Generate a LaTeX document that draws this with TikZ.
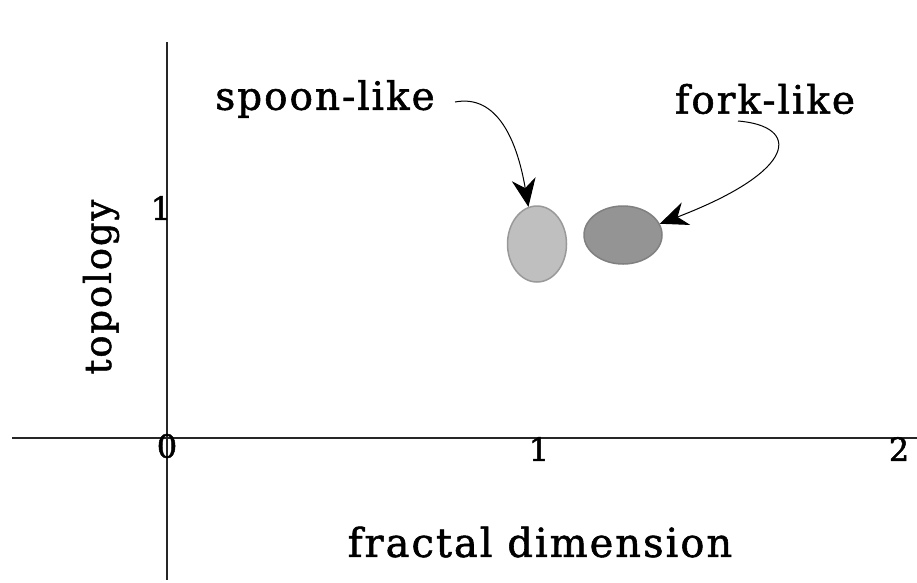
\documentclass[tikz,border=0pt]{standalone}
\usepackage{fontspec}
\setmainfont{DejaVu Serif}
\newfontfamily\lblfont[LetterSpace=5,FakeBold=1.4]{DejaVu Serif}
\newfontfamily\numfont[FakeBold=1.5]{DejaVu Serif}
\usetikzlibrary{shapes.geometric,arrows.meta}
\tikzset{
  axis/.style={line width=1.1pt, black!85},
  lbl/.style={inner sep=0pt, font=\lblfont\fontsize{39}{43}\selectfont},
  num/.style={inner sep=0pt, font=\numfont\fontsize{32}{35}\selectfont},
  blob/.style={ellipse, inner sep=0pt, line width=1.5pt},
  conn/.style={line width=1pt, -{Stealth[length=28pt,width=24pt,inset=9pt]}}
}
\begin{document}
\begin{tikzpicture}[x=1pt,y=-1pt]
\useasboundingbox (0,0) rectangle (917,582);
\coordinate (ytop) at (167,42);
\coordinate (ybot) at (167,580);
\coordinate (xl) at (12,438);
\coordinate (xr) at (917,438);
\draw[axis] (ytop) -- (ybot);
\draw[axis] (xl) -- (xr);
\node[num] (n0) at (167,446) {0};
\node[num] (n1) at (539,449) {1};
\node[num] (n2) at (899,449) {2};
\node[num] (ny1) at (161,208) {1};
\node[lbl, rotate=90, font=\lblfont\fontsize{37}{40}\selectfont] (ylab) at (101,287) {topology};
\node[lbl, font=\lblfont\fontsize{40}{44}\selectfont] (xlab) at (540,542) {fractal dimension};
\node[lbl] (spoonlbl) at (325,99) {spoon-like};
\node[lbl] (forklbl) at (765,99) {fork-like};
\node[blob, draw=black!40, fill=black!25, minimum width=59pt, minimum height=76pt] (spoon) at (537,244) {};
\node[blob, draw=black!50, fill=black!42, minimum width=78pt, minimum height=58pt] (fork) at (623,235) {};
\coordinate (s0) at (455,102);
\coordinate (f0) at (738,121);
\draw[conn] (s0) .. controls (497,94) and (517,140) .. (spoon.103);
\draw[conn] (f0) .. controls (800,126) and (800,170) .. (fork.17);
\end{tikzpicture}
\end{document}
